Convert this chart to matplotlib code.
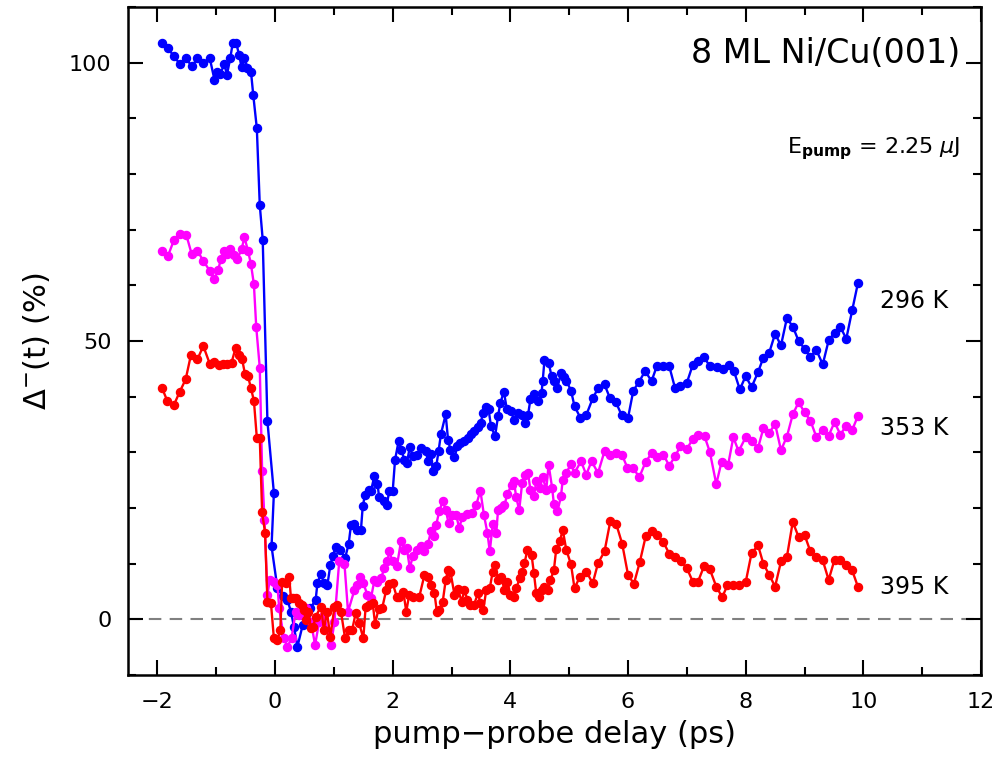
import matplotlib
matplotlib.use("Agg")
import matplotlib.pyplot as plt
import numpy as np
from matplotlib.ticker import MultipleLocator

# pump-probe delay (ps) and magnetic dichroism signal (%) for each temperature
delay_296 = [-1.93, -1.82, -1.72, -1.62, -1.52, -1.41, -1.32, -1.22, -1.11, -1.03,
             -0.98, -0.93, -0.86, -0.82, -0.76, -0.72, -0.66, -0.61, -0.57, -0.52,
             -0.47, -0.41, -0.37, -0.31, -0.26, -0.21, -0.13, -0.02, -0.06, 0.04,
             0.13, 0.21, 0.27, 0.32, 0.38, 0.47, 0.52, 0.60, 0.69, 0.72,
             0.78, 0.83, 0.89, 0.94, 0.98, 1.03, 1.11, 1.19, 1.25, 1.29,
             1.35, 1.40, 1.46, 1.49, 1.53, 1.59, 1.63, 1.69, 1.74, 1.77,
             1.85, 1.90, 1.94, 2.00, 2.04, 2.10, 2.14, 2.20, 2.24, 2.29,
             2.34, 2.41, 2.48, 2.56, 2.60, 2.65, 2.68, 2.74, 2.78, 2.82,
             2.90, 2.94, 2.98, 3.05, 3.10, 3.15, 3.22, 3.28, 3.33, 3.39,
             3.45, 3.50, 3.53, 3.59, 3.63, 3.67, 3.74, 3.79, 3.83, 3.89,
             3.94, 4.01, 4.06, 4.13, 4.19, 4.25, 4.30, 4.34, 4.40, 4.47,
             4.53, 4.55, 4.58, 4.65, 4.70, 4.74, 4.80, 4.86, 4.91, 4.95,
             5.03, 5.09, 5.19, 5.29, 5.40, 5.49, 5.60, 5.69, 5.79, 5.89,
             6.00, 6.09, 6.19, 6.29, 6.40, 6.49, 6.60, 6.70, 6.80, 6.88,
             7.00, 7.10, 7.19, 7.29, 7.39, 7.51, 7.61, 7.71, 7.80, 7.90,
             8.00, 8.10, 8.21, 8.30, 8.40, 8.50, 8.60, 8.70, 8.80, 8.90,
             9.00, 9.10, 9.20, 9.31, 9.41, 9.51, 9.61, 9.71, 9.81, 9.91]
signal_296 = [103.5, 102.6, 101.1, 99.8, 100.8, 99.3, 100.8, 100.0, 100.8, 96.9,
              98.3, 98.0, 99.8, 97.7, 100.9, 103.5, 103.5, 101.3, 99.2, 100.9,
              99.1, 98.4, 94.1, 88.2, 74.4, 68.2, 35.6, 22.7, 13.1, 5.6,
              4.2, 3.5, 1.4, -1.3, -4.9, -1.0, 0.8, 2.0, 3.5, 6.5,
              8.2, 6.5, 6.2, 9.8, 11.3, 13.0, 12.5, 11.0, 13.5, 16.9,
              17.1, 16.0, 16.1, 20.3, 22.4, 23.3, 23.1, 25.8, 24.4, 21.9,
              21.2, 20.6, 23.0, 23.1, 28.7, 32.0, 30.5, 28.7, 28.1, 30.9,
              29.3, 29.6, 30.7, 30.3, 28.4, 29.7, 26.7, 27.5, 30.3, 33.3,
              36.8, 32.3, 30.5, 29.1, 31.1, 31.7, 32.0, 32.6, 33.3, 33.9,
              34.5, 35.3, 37.1, 38.1, 37.7, 34.7, 32.9, 36.5, 38.9, 40.9,
              37.7, 37.4, 35.9, 37.1, 36.7, 35.3, 36.7, 39.5, 40.5, 39.2,
              40.7, 42.9, 46.6, 46.1, 43.7, 42.9, 41.6, 44.3, 43.5, 42.9,
              41.1, 38.3, 36.2, 36.7, 39.7, 41.5, 42.2, 39.8, 39.1, 36.7,
              36.2, 41.1, 42.7, 44.6, 42.8, 45.5, 45.5, 45.5, 41.5, 41.9,
              42.5, 45.7, 46.4, 47.1, 45.5, 45.4, 45.0, 45.7, 44.6, 41.3,
              43.7, 41.7, 44.4, 47.0, 47.9, 51.3, 49.2, 54.1, 52.6, 50.0,
              48.6, 47.1, 48.4, 45.8, 50.1, 51.5, 52.5, 50.4, 55.5, 60.5]

delay_353 = [-1.92, -1.82, -1.72, -1.62, -1.51, -1.42, -1.32, -1.22, -1.11, -1.03,
             -0.97, -0.92, -0.87, -0.81, -0.76, -0.70, -0.64, -0.57, -0.52, -0.46,
             -0.41, -0.36, -0.32, -0.26, -0.22, -0.18, -0.13, -0.09, -0.02, 0.04,
             0.07, 0.15, 0.21, 0.28, 0.35, 0.41, 0.52, 0.61, 0.68, 0.75,
             0.83, 0.95, 1.01, 1.09, 1.18, 1.24, 1.35, 1.40, 1.44, 1.50,
             1.57, 1.63, 1.69, 1.74, 1.80, 1.86, 1.91, 1.94, 2.00, 2.07,
             2.14, 2.20, 2.24, 2.29, 2.34, 2.41, 2.48, 2.54, 2.60, 2.65,
             2.70, 2.74, 2.79, 2.85, 2.90, 2.95, 3.01, 3.08, 3.13, 3.18,
             3.27, 3.34, 3.42, 3.49, 3.55, 3.61, 3.65, 3.70, 3.76, 3.79,
             3.84, 3.90, 3.95, 4.02, 4.06, 4.10, 4.15, 4.20, 4.25, 4.30,
             4.34, 4.40, 4.44, 4.50, 4.55, 4.61, 4.65, 4.71, 4.74, 4.80,
             4.86, 4.89, 4.95, 5.03, 5.09, 5.20, 5.29, 5.38, 5.49, 5.60,
             5.70, 5.80, 5.90, 5.99, 6.09, 6.19, 6.30, 6.40, 6.50, 6.60,
             6.70, 6.80, 6.89, 7.00, 7.10, 7.19, 7.30, 7.39, 7.50, 7.59,
             7.70, 7.79, 7.88, 8.00, 8.10, 8.21, 8.30, 8.40, 8.50, 8.60,
             8.70, 8.80, 8.90, 9.00, 9.10, 9.20, 9.31, 9.41, 9.51, 9.61,
             9.71, 9.81, 9.91]
signal_353 = [66.2, 65.3, 68.1, 69.2, 69.1, 65.7, 66.2, 64.4, 62.6, 61.1,
              62.7, 64.7, 66.1, 65.7, 66.5, 65.5, 64.7, 66.5, 68.6, 66.2,
              63.8, 60.2, 52.5, 45.2, 26.6, 17.9, 4.4, 7.1, 6.8, 6.2,
              2.0, -3.4, -4.9, -3.4, 1.4, 0.8, 2.0, -0.4, -4.6, -0.4,
              0.8, -4.6, -0.4, 10.4, 9.9, 1.4, 5.3, 6.2, 7.6, 6.5,
              4.4, 3.8, 7.1, 6.8, 7.4, 9.2, 10.4, 12.2, 10.4, 9.5,
              14.0, 12.5, 12.8, 9.2, 11.3, 12.5, 13.1, 12.2, 13.6, 15.8,
              14.9, 17.0, 19.4, 21.2, 19.7, 17.3, 18.8, 18.7, 16.4, 18.3,
              19.0, 19.1, 20.6, 23.1, 18.8, 15.5, 12.2, 17.1, 15.5, 19.6,
              20.0, 20.6, 22.5, 24.2, 24.8, 21.9, 19.6, 24.5, 26.0, 26.3,
              23.3, 22.1, 24.8, 23.6, 25.5, 23.3, 27.8, 23.6, 20.7, 19.4,
              22.1, 25.1, 26.3, 27.9, 26.3, 28.4, 26.0, 28.4, 26.3, 30.2,
              29.5, 29.8, 29.5, 27.2, 27.2, 25.5, 28.3, 29.8, 29.1, 29.6,
              27.6, 29.3, 31.1, 30.6, 32.4, 33.2, 32.9, 30.1, 24.3, 28.3,
              27.7, 32.7, 30.2, 32.7, 32.0, 30.8, 34.3, 33.5, 35.1, 30.4,
              32.8, 36.8, 39.0, 37.2, 35.7, 32.8, 34.0, 33.0, 35.4, 33.2,
              34.8, 34.0, 36.6]

delay_395 = [-1.92, -1.83, -1.72, -1.62, -1.52, -1.43, -1.32, -1.22, -1.11, -1.03,
             -0.95, -0.89, -0.81, -0.74, -0.67, -0.61, -0.56, -0.51, -0.46, -0.41,
             -0.36, -0.31, -0.26, -0.22, -0.17, -0.13, -0.07, -0.02, 0.04, 0.09,
             0.12, 0.18, 0.24, 0.27, 0.31, 0.35, 0.41, 0.45, 0.49, 0.52,
             0.56, 0.61, 0.65, 0.69, 0.78, 0.83, 0.88, 0.94, 1.01, 1.06,
             1.12, 1.19, 1.25, 1.31, 1.37, 1.43, 1.50, 1.54, 1.60, 1.66,
             1.70, 1.76, 1.82, 1.89, 1.94, 2.00, 2.07, 2.11, 2.18, 2.23,
             2.28, 2.35, 2.45, 2.54, 2.60, 2.65, 2.71, 2.75, 2.79, 2.85,
             2.90, 2.94, 2.98, 3.05, 3.11, 3.17, 3.22, 3.27, 3.32, 3.38,
             3.45, 3.49, 3.54, 3.59, 3.65, 3.70, 3.74, 3.79, 3.84, 3.90,
             3.95, 4.00, 4.06, 4.10, 4.16, 4.20, 4.24, 4.29, 4.36, 4.40,
             4.44, 4.48, 4.54, 4.58, 4.64, 4.68, 4.74, 4.78, 4.84, 4.89,
             4.95, 5.03, 5.09, 5.18, 5.29, 5.40, 5.49, 5.60, 5.70, 5.80,
             5.90, 6.00, 6.10, 6.20, 6.30, 6.40, 6.50, 6.60, 6.70, 6.80,
             6.90, 7.00, 7.10, 7.19, 7.29, 7.39, 7.50, 7.60, 7.69, 7.79,
             7.88, 8.00, 8.10, 8.21, 8.30, 8.40, 8.50, 8.60, 8.70, 8.80,
             8.90, 9.00, 9.10, 9.20, 9.31, 9.41, 9.51, 9.61, 9.71, 9.81,
             9.91]
signal_395 = [41.5, 39.2, 38.5, 40.9, 43.1, 47.5, 46.7, 49.1, 45.9, 46.3,
              45.7, 45.8, 45.8, 46.1, 48.8, 47.5, 46.7, 44.0, 43.7, 41.5,
              39.3, 32.6, 32.6, 19.2, 15.6, 3.2, 2.9, -3.4, -3.7, -1.9,
              6.8, 6.5, 7.7, 3.8, 3.8, 3.8, 2.9, 2.6, 1.7, -0.1,
              1.4, -1.6, -1.3, 0.5, 2.3, -1.9, 1.4, -3.1, 2.3, 2.6,
              1.4, -3.4, -1.9, -1.9, 1.1, -0.7, -3.4, 2.3, 2.6, 2.9,
              -0.8, 1.9, 2.0, 5.3, 6.3, 6.5, 4.0, 4.0, 5.0, 1.4,
              4.4, 4.0, 4.0, 8.0, 7.7, 6.2, 4.7, 1.4, 1.7, 3.2,
              7.0, 8.9, 8.6, 4.4, 5.5, 3.2, 5.2, 3.5, 2.6, 2.6,
              4.7, 2.9, 1.7, 5.3, 5.6, 8.6, 9.8, 7.1, 7.7, 5.3,
              6.8, 4.4, 4.1, 5.6, 7.4, 8.6, 10.1, 12.5, 11.6, 8.3,
              4.7, 4.1, 5.3, 5.9, 5.3, 7.0, 8.9, 12.7, 14.0, 16.1,
              12.5, 9.9, 5.6, 7.6, 8.6, 6.5, 10.1, 12.2, 17.7, 17.1,
              13.6, 8.0, 6.4, 10.3, 14.9, 15.8, 15.1, 13.9, 11.8, 11.2,
              10.4, 9.2, 6.8, 6.8, 9.5, 9.0, 5.9, 4.0, 6.1, 6.2,
              6.2, 6.7, 11.9, 13.3, 10.0, 8.0, 5.9, 10.4, 11.2, 17.5,
              14.8, 15.2, 12.2, 11.2, 10.6, 7.1, 10.7, 10.7, 9.8, 8.8,
              5.8]

temperatures = ["296 K", "353 K", "395 K"]
colors = ["#0000ff", "#ff00ff", "#ff0000"]

plt.rcParams['font.family'] = ['DejaVu Sans']
plt.rcParams['mathtext.fontset'] = 'dejavusans'

fig = plt.figure(figsize=(10, 7.68), dpi=100)
ax = fig.add_axes([0.128, 0.121, 0.853, 0.870])

# zero line
ax.axhline(0, color='#808080', lw=1.5, ls=(0, (6, 4)), zorder=1)

series = [(delay_296, signal_296), (delay_353, signal_353), (delay_395, signal_395)]
for (t, s), c in zip(series, colors):
    ax.plot(t, s, '-o', color=c, lw=1.7, ms=5.8, mec=c, mfc=c, zorder=3)

# temperature labels at the right end of each curve
label_y = [57.2, 34.4, 5.9]
for txt, yy in zip(temperatures, label_y):
    ax.text(10.29, yy, txt, fontsize=17, ha='left', va='center')

ax.text(11.65, 101.6, "8 ML Ni/Cu(001)", fontsize=24, ha='right', va='center')
ax.text(11.65, 84.5, r"E$_{\mathbf{pump}}$ = 2.25 $\mu$J", fontsize=16,
        ha='right', va='center')

ax.set_xlim(-2.5, 12)
ax.set_ylim(-10, 110)
ax.xaxis.set_major_locator(MultipleLocator(2))
ax.xaxis.set_minor_locator(MultipleLocator(1))
ax.yaxis.set_major_locator(MultipleLocator(50))
ax.yaxis.set_minor_locator(MultipleLocator(10))
ax.tick_params(which='both', direction='in', top=True, right=True, width=1.5)
ax.tick_params(which='major', length=11, labelsize=16)
ax.tick_params(axis='x', which='major', pad=12)
ax.tick_params(axis='y', which='major', pad=12)
ax.tick_params(which='minor', length=6)
for sp in ax.spines.values():
    sp.set_linewidth(1.8)

ax.xaxis.set_major_formatter(plt.FuncFormatter(lambda v, p: f"{v:g}".replace('-', '\u2212')))

ax.set_xlabel("pump\u2212probe delay (ps)", fontsize=22, labelpad=6)
ax.set_ylabel(r"$\Delta^{-}$(t) (%)", fontsize=22, labelpad=12)

fig.savefig("out.png", dpi=100)
